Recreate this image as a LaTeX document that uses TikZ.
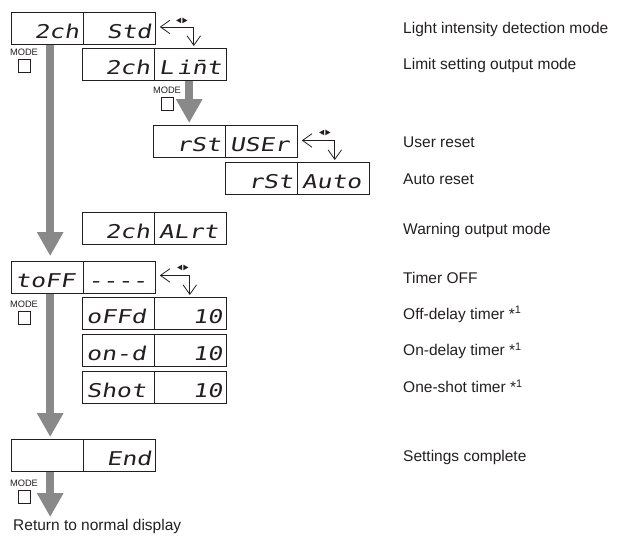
\documentclass[tikz,border=0pt]{standalone}
\usepackage{fontspec}
\setmainfont{Liberation Sans}
\newfontfamily\segfont[FakeStretch=1.3, FakeSlant=0.18]{DejaVu Sans Mono}
\usepackage{xcolor}
\definecolor{flowgray}{HTML}{898989}
\definecolor{inkcolor}{HTML}{231F20}
\usepackage{tikz}
\usetikzlibrary{positioning, calc, arrows.meta}

\begin{document}
\begin{tikzpicture}[
  x=1pt, y=-1pt,
  disp/.style={draw=inkcolor, line width=0.9pt, text=inkcolor, align=#1,
    text width=63.5pt, inner xsep=4pt, minimum height=32pt,
    text height=20pt, text depth=0pt,
    font=\segfont\fontsize{19}{19}\selectfont, anchor=north west},
  disp/.default=left,
  desc/.style={font=\fontsize{15.5}{18}\selectfont, text=inkcolor, anchor=west,
    inner sep=0pt, text height=11.1pt, text depth=0pt},
  modetxt/.style={font=\fontsize{9.3}{10}\selectfont, text=inkcolor, inner sep=0pt},
  modebtn/.style={draw=inkcolor, line width=0.8pt, minimum width=12pt,
    minimum height=12.5pt, inner sep=0pt},
  flow/.style={draw=flowgray, line width=7.5pt, -{Triangle[length=24pt, width=25pt]}},
  toggle/.style={draw=inkcolor, line width=0.8pt, <->,
    >={Straight Barb[length=9.5pt, width=13.5pt]}, shorten >=2pt}
]
\useasboundingbox (0,0) rectangle (623,535);

% 1 unit = 1px of the 623 x 535 layout, y grows downwards

% 2ch / Std
\node[disp=right] (std) at (11,12) {2ch};
\node[disp=right, right=0pt of std] (std-v) {Std};

% 2ch / Limit
\node[disp=right] (lim) at (82,48) {2ch};
\node[disp=left, right=0pt of lim] (lim-v) {L\,i\=nt};

% rSt / USEr
\node[disp=right] (usr) at (153,125) {rSt};
\node[disp=left, right=0pt of usr] (usr-v) {USEr};

% rSt / Auto
\node[disp=right] (aut) at (225,162) {rSt};
\node[disp=left, right=0pt of aut] (aut-v) {Auto};

% 2ch / ALrt
\node[disp=right] (alr) at (82,212) {2ch};
\node[disp=left, right=0pt of alr] (alr-v) {ALrt};

% toFF / ----
\node[disp=left] (tof) at (11,261) {toFF};
\node[disp=left, right=0pt of tof] (tof-v) {-{}-{}-{}-};

% timers
\node[disp=left] (ofd) at (82,297) {oFFd};
\node[disp=right, right=0pt of ofd] (ofd-v) {10};
\node[disp=left, below=4pt of ofd.south west, anchor=north west] (ond) {on-d};
\node[disp=right, right=0pt of ond] (ond-v) {10};
\node[disp=left, below=4pt of ond.south west, anchor=north west] (sht) {Shot};
\node[disp=right, right=0pt of sht] (sht-v) {10};

% End
\node[disp=left] (fin) at (11,439) {};
\node[disp=right, right=0pt of fin] (fin-v) {End};

% MODE keys
\node[modetxt] (m1) at (24,52.5) {MODE};
\node[modebtn, below=3.5pt of m1] (b1) {};
\node[modetxt] (m2) at (167,90.5) {MODE};
\node[modebtn, below=3.5pt of m2] (b2) {};
\node[modetxt] (m3) at (24,304.5) {MODE};
\node[modebtn, below=3.5pt of m3] (b3) {};
\node[modetxt] (m4) at (24,483.5) {MODE};
\node[modebtn, below=3.5pt of m4] (b4) {};

% gray flow arrows
\node[desc, anchor=north west, text depth=3pt] (back) at (13,519) {Return to normal display};
\coordinate (ret) at (back.north -| fin.south);
\draw[flow] ([xshift=3pt]std.south) -- ([xshift=3pt, yshift=5pt]tof.north);
\draw[flow] (lim-v.south -| usr.north) -- ([yshift=2pt]usr.north);
\draw[flow] ([xshift=3pt]tof.south) -- ([xshift=3pt, yshift=2pt]fin.north);
\draw[flow] ([xshift=3pt]fin.south) -- ([xshift=3pt, yshift=2pt]ret);

% up/down toggles
\coordinate (t1) at ([xshift=38pt, yshift=1.5pt]std-v.east);
\draw[toggle] ([xshift=4pt, yshift=1.5pt]std-v.east) -- (t1) -- (t1 |- lim.north);
\coordinate (u1) at ([shift={(-12,-6.5)}]t1);
\fill[inkcolor] ([xshift=-5.6pt]u1) -- ++(5,-2.8) -- ++(0,5.6) -- cycle;
\fill[inkcolor] ([xshift=5.6pt]u1) -- ++(-5,-2.8) -- ++(0,5.6) -- cycle;

\coordinate (t2) at ([xshift=37pt, yshift=1pt]usr-v.east);
\draw[toggle] ([xshift=4pt, yshift=1pt]usr-v.east) -- (t2) -- (t2 |- aut.north);
\coordinate (u2) at ([shift={(-10,-8)}]t2);
\fill[inkcolor] ([xshift=-5.6pt]u2) -- ++(5,-2.8) -- ++(0,5.6) -- cycle;
\fill[inkcolor] ([xshift=5.6pt]u2) -- ++(-5,-2.8) -- ++(0,5.6) -- cycle;

\coordinate (t3) at ([xshift=34pt, yshift=2pt]tof-v.east);
\draw[toggle] ([xshift=4pt, yshift=2pt]tof-v.east) -- (t3) -- (t3 |- ofd.north);
\coordinate (u3) at ([shift={(-7,-8)}]t3);
\fill[inkcolor] ([xshift=-5.6pt]u3) -- ++(5,-2.8) -- ++(0,5.6) -- cycle;
\fill[inkcolor] ([xshift=5.6pt]u3) -- ++(-5,-2.8) -- ++(0,5.6) -- cycle;

% descriptions
\coordinate (lab) at (403,0);
\node[desc] (d-std) at (lab |- std.center) {Light intensity detection mode};
\node[desc] (d-lim) at (lab |- lim.center) {Limit setting output mode};
\node[desc] (d-usr) at (lab |- usr.center) {User reset};
\node[desc] (d-aut) at (lab |- aut.center) {Auto reset};
\node[desc] (d-alr) at (lab |- alr.center) {Warning output mode};
\node[desc] (d-tof) at (lab |- tof.center) {Timer OFF};
\node[desc] (d-ofd) at (lab |- ofd.center) {Off-delay timer *\textsuperscript{1}};
\node[desc] (d-ond) at (lab |- ond.center) {On-delay timer *\textsuperscript{1}};
\node[desc] (d-sht) at (lab |- sht.center) {One-shot timer *\textsuperscript{1}};
\node[desc] (d-fin) at (lab |- fin.center) {Settings complete};

\end{tikzpicture}
\end{document}
